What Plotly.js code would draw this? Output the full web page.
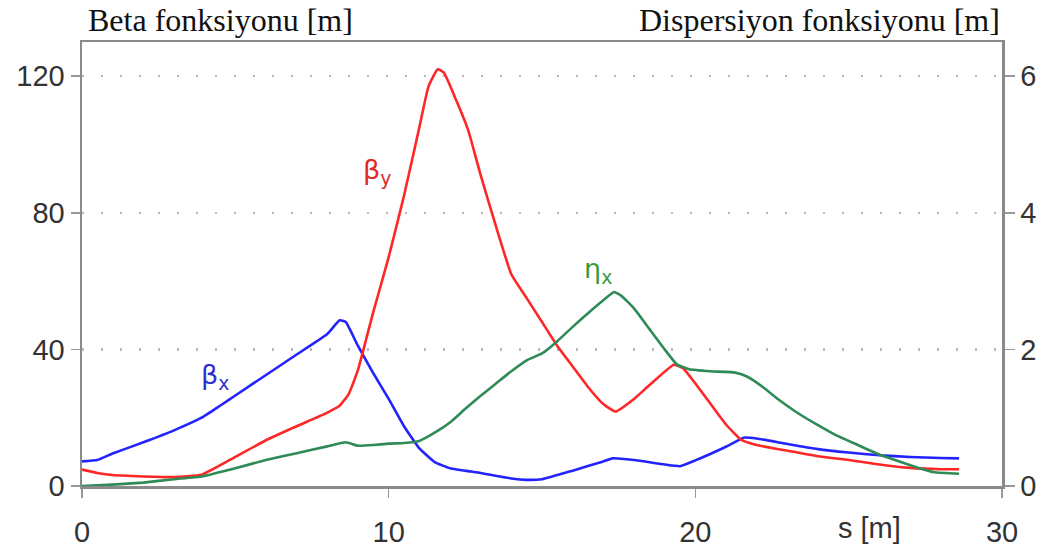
<!DOCTYPE html>
<html>
<head>
<meta charset="utf-8">
<script src="https://cdn.plot.ly/plotly-3.0.1.min.js"></script>
<style>html,body{margin:0;padding:0;background:#fff;}#chart{width:1056px;height:556px;}</style>
</head>
<body>
<div id="chart"></div>
<script>
// s [m] positions and values
const sBetaX = [0, 0.5, 1, 2, 3, 3.9, 4.5, 5, 6, 7, 8, 8.4, 8.6, 9, 9.5, 10, 10.5, 11, 11.5, 12, 13, 14, 14.5, 15, 16, 17, 17.3, 18, 19, 19.5, 20, 21, 21.6, 22, 23, 24, 25, 26, 27, 28, 28.6];
const betaX  = [7.2, 7.6, 9.5, 12.8, 16.3, 20, 23.5, 26.5, 32.5, 38.5, 44.5, 48.5, 48, 41, 33, 25.5, 17.5, 11, 7, 5.2, 3.8, 2.2, 1.8, 2.0, 4.5, 7.2, 8.1, 7.6, 6.3, 5.8, 7.5, 11.5, 14.2, 13.9, 12.3, 10.8, 9.8, 9.0, 8.5, 8.2, 8.1];

const sBetaY = [0, 0.5, 1, 2, 3, 3.9, 5, 6, 7, 8, 8.4, 8.7, 9, 9.5, 10, 10.5, 11, 11.3, 11.6, 11.8, 12.2, 12.6, 13, 13.5, 14, 14.5, 15, 15.5, 16, 16.5, 17, 17.4, 18, 18.5, 19.3, 19.6, 20, 20.5, 21, 21.5, 22, 23, 24, 25, 26, 27, 28, 28.6];
const betaY  = [4.8, 3.8, 3.2, 2.8, 2.6, 3.3, 8.5, 13.4, 17.5, 21.5, 23.5, 27, 34, 51, 67, 85, 105, 117, 122, 121, 113, 104, 91, 76, 62, 55, 48, 41, 35, 29, 24, 21.8, 25.5, 29.5, 35.5, 34.5, 30, 24, 18, 13.5, 12, 10.3, 8.7, 7.6, 6.3, 5.3, 4.9, 4.9];

const sEtaX = [0, 1, 2, 3, 3.9, 5, 6, 7, 8, 8.6, 9, 9.5, 10, 10.5, 11, 11.5, 12, 12.5, 13, 13.5, 14, 14.5, 15, 15.5, 16, 16.5, 17, 17.35, 17.6, 18, 18.5, 19, 19.4, 19.8, 20.5, 21.3, 21.7, 22.2, 22.7, 23.3, 24, 24.6, 25.3, 26, 26.7, 27.3, 27.8, 28.6];
const etaX  = [0, 0.02, 0.05, 0.1, 0.14, 0.26, 0.38, 0.48, 0.58, 0.64, 0.59, 0.6, 0.62, 0.63, 0.66, 0.78, 0.93, 1.13, 1.32, 1.5, 1.68, 1.84, 1.94, 2.12, 2.33, 2.53, 2.72, 2.84, 2.78, 2.6, 2.3, 2.0, 1.78, 1.71, 1.68, 1.66, 1.6, 1.45, 1.27, 1.08, 0.89, 0.74, 0.6, 0.46, 0.35, 0.26, 0.2, 0.18];

const xTicks = [0, 10, 20, 30];
const yTicks = [0, 40, 80, 120];
const y2Ticks = [0, 2, 4, 6];

const tickFont = {family: 'Liberation Sans, Arial, sans-serif', size: 29, color: '#333'};
const titleFont = {family: 'Liberation Serif, Times New Roman, serif', size: 32, color: '#111'};
const labelFont = 'DejaVu Sans, sans-serif';

const lineShape = {shape: 'spline', smoothing: 0.4};
const traces = [
  {x: sBetaX, y: betaX, mode: 'lines', line: Object.assign({color: '#2323ff', width: 2.6}, lineShape), yaxis: 'y', hoverinfo: 'none'},
  {x: sBetaY, y: betaY, mode: 'lines', line: Object.assign({color: '#ff2626', width: 2.6}, lineShape), yaxis: 'y', hoverinfo: 'none'},
  {x: sEtaX, y: etaX, mode: 'lines', line: Object.assign({color: '#2e8b57', width: 2.6}, lineShape), yaxis: 'y2', hoverinfo: 'none'}
];

const layout = {
  width: 1056, height: 556,
  margin: {l: 82, r: 54, t: 42, b: 70},
  paper_bgcolor: '#fff', plot_bgcolor: '#fff',
  showlegend: false,
  xaxis: {
    range: [0, 30], tickvals: xTicks, ticktext: xTicks.map(String),
    showline: true, linecolor: '#8a8a8a', linewidth: 2.5, mirror: true,
    ticks: 'outside', ticklen: 9, tickwidth: 1.5, tickcolor: '#999',
    ticklabelstandoff: 10,
    showgrid: false, zeroline: false, tickfont: tickFont
  },
  yaxis: {
    range: [0, 130], tickvals: yTicks, ticktext: yTicks.map(String),
    showline: true, linecolor: '#8a8a8a', linewidth: 2.5,
    ticks: 'outside', ticklen: 9, tickwidth: 1.5, tickcolor: '#999',
    showgrid: true, gridcolor: '#b8b8b8', gridwidth: 2.5, griddash: '2px,17px',
    zeroline: false, tickfont: tickFont
  },
  yaxis2: {
    range: [0, 6.5], tickvals: y2Ticks, ticktext: y2Ticks.map(String),
    overlaying: 'y', side: 'right',
    showline: true, linecolor: '#8a8a8a', linewidth: 2.5,
    ticks: 'outside', ticklen: 10, tickwidth: 1.5, tickcolor: '#999',
    showgrid: false, zeroline: false, tickfont: tickFont
  },
  annotations: [
    {text: 'Beta fonksiyonu [m]', xref: 'paper', yref: 'paper', x: 0.0045, y: 1.094, xanchor: 'left', yanchor: 'top', showarrow: false, font: titleFont},
    {text: 'Dispersiyon fonksiyonu [m]', xref: 'paper', yref: 'paper', x: 1.0, y: 1.094, xanchor: 'right', yanchor: 'top', showarrow: false, font: titleFont},
    {text: 's [m]', xref: 'x', yref: 'paper', x: 24.6, y: -0.095, xanchor: 'left', yanchor: 'middle', showarrow: false, font: tickFont},
    {text: 'β<sub>x</sub>', xref: 'x', yref: 'y', x: 3.8, y: 32, xanchor: 'left', yanchor: 'middle', showarrow: false, font: {family: labelFont, size: 27, color: '#3030d0'}},
    {text: 'β<sub>y</sub>', xref: 'x', yref: 'y', x: 9.1, y: 92, xanchor: 'left', yanchor: 'middle', showarrow: false, font: {family: labelFont, size: 27, color: '#dd2a2a'}},
    {text: 'η<sub>x</sub>', xref: 'x', yref: 'y', x: 16.3, y: 63, xanchor: 'left', yanchor: 'middle', showarrow: false, font: {family: labelFont, size: 27, color: '#3a9a3a'}}
  ]
};

Plotly.newPlot('chart', traces, layout, {staticPlot: true, displayModeBar: false});
</script>
</body>
</html>
